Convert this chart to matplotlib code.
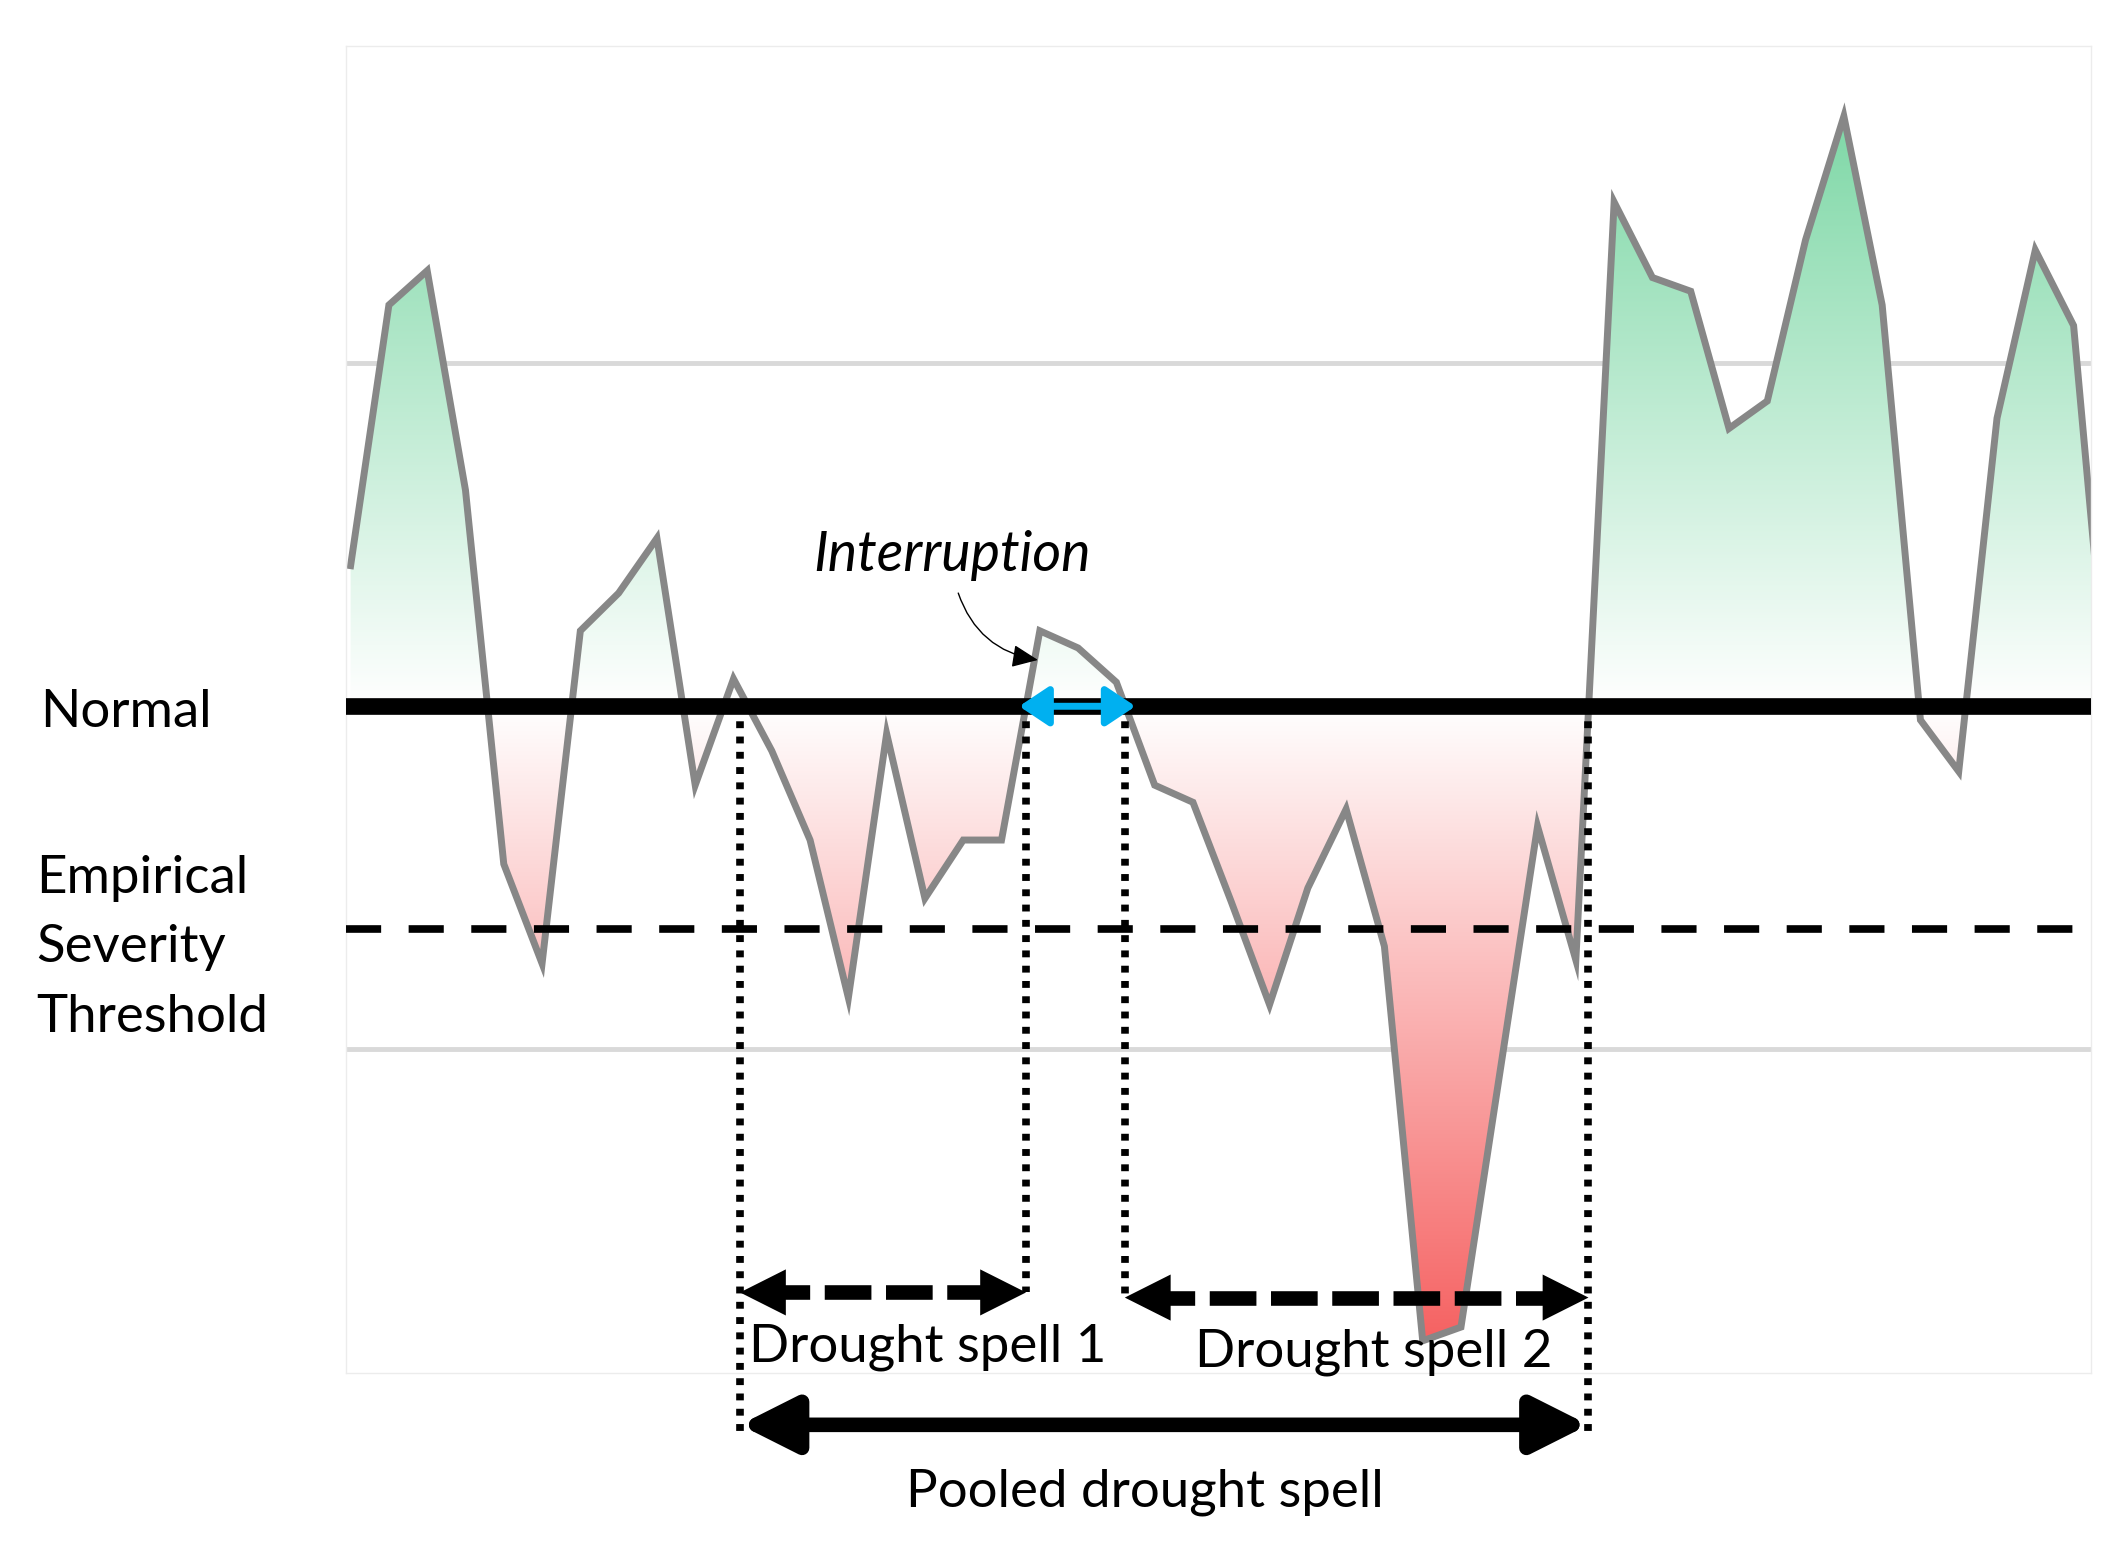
import numpy as np
import matplotlib
matplotlib.use("Agg")
import matplotlib.pyplot as plt
import matplotlib.transforms as mtransforms
from matplotlib.colors import LinearSegmentedColormap
from matplotlib.patches import PathPatch
from matplotlib.path import Path

plt.rcParams['font.family'] = ['Lato', 'DejaVu Sans']

# standardised index per time step (0 = normal)
steps = np.arange(-1, 46)
index_values = np.array([
    0.41, 1.17, 1.27, 0.63, -0.46, -0.75, 0.22, 0.33, 0.49, -0.23,
    0.08, -0.13, -0.39, -0.85, -0.08, -0.56, -0.39, -0.39, 0.22, 0.17,
    0.07, -0.23, -0.28, -0.57, -0.87, -0.53, -0.30, -0.70, -1.85, -1.81,
    -1.08, -0.35, -0.74, 1.47, 1.25, 1.21, 0.81, 0.89, 1.36, 1.72,
    1.17, -0.04, -0.19, 0.84, 1.33, 1.11, -0.12])

normal_level = 0.0
severity_threshold = -0.65
grid_levels = [-1.0, 1.0]

# spell boundaries (in time steps)
spell_1 = (9.17, 16.64)
spell_2 = (19.22, 31.33)
interruption = (16.46, 19.50)

threshold_lines = ['Empirical', 'Severity', 'Threshold']

x_min, x_max = -1.133, 44.46
y_min, y_max = -1.945, 1.925

fig = plt.figure(figsize=(21.25, 15.55), dpi=100)
ax = fig.add_axes([0.1626, 0.1168, 0.8215, 0.8536])

# gridlines (behind the fill)
for g in grid_levels:
    ax.axhline(g, color='#d9d9d9', lw=3.5, zorder=0)


# gradient fill clipped to the area between series and normal
def gradient_fill(mask, cmap, extent, flip):
    coll = ax.fill_between(steps, index_values, normal_level, where=mask,
                           interpolate=True, color='none', lw=0)
    clip = PathPatch(Path.make_compound_path(*coll.get_paths()),
                     transform=ax.transData, fc='none', ec='none')
    ax.add_patch(clip)
    grad = np.linspace(0, 1, 256).reshape(-1, 1)
    if flip:
        grad = grad[::-1]
    im = ax.imshow(grad, cmap=cmap, extent=extent, origin='lower',
                   aspect='auto', zorder=1, interpolation='bilinear')
    im.set_clip_path(clip)


green = LinearSegmentedColormap.from_list('g', ['#ffffff', '#6fd39c'])
red = LinearSegmentedColormap.from_list('r', ['#ffffff', '#f55a5a'])
gradient_fill(index_values >= normal_level, green, [x_min, x_max, normal_level, y_max], False)
gradient_fill(index_values <= normal_level, red, [x_min, x_max, y_min, normal_level], True)

ax.plot(steps, index_values, color='#878787', lw=5, zorder=2, solid_joinstyle='miter')
ax.axhline(severity_threshold, color='black', lw=5.5, ls=(0, (4.6, 3.6)), zorder=3)
ax.axhline(normal_level, color='black', lw=12, zorder=5)

# dotted spell boundaries
dot = dict(color='black', lw=5.5, ls=(0, (0.9, 1.1)), clip_on=False, zorder=4)
arrow_y1, arrow_y2, pooled_y = -1.709, -1.724, -2.095
ax.plot([spell_1[0]] * 2, [normal_level, -2.135], **dot)
ax.plot([spell_1[1]] * 2, [normal_level, arrow_y1], **dot)
ax.plot([spell_2[0]] * 2, [normal_level, arrow_y2], **dot)
ax.plot([spell_2[1]] * 2, [normal_level, -2.135], **dot)

head = '<|-|>,head_length=1.65,head_width=0.83'


def dashed_arrow(x0, x1, y):
    ax.plot([x0 + 0.6, x1 - 0.6], [y, y], color='black', lw=10.5,
            ls=(0, (3.2, 1.0)), clip_on=False, zorder=6)
    ax.annotate('', xy=(x1, y), xytext=(x0, y), annotation_clip=False,
                arrowprops=dict(arrowstyle=head, mutation_scale=20, lw=0,
                                color='black', shrinkA=0, shrinkB=0), zorder=6)


dashed_arrow(spell_1[0], spell_1[1], arrow_y1)
dashed_arrow(spell_2[0], spell_2[1], arrow_y2)
ax.annotate('', xy=(spell_2[1], pooled_y), xytext=(spell_1[0], pooled_y),
            annotation_clip=False,
            arrowprops=dict(arrowstyle=head, mutation_scale=20, lw=10.5,
                            color='black', shrinkA=0, shrinkB=0))

# interruption
ax.annotate('', xy=(interruption[1], normal_level), xytext=(interruption[0], normal_level),
            arrowprops=dict(arrowstyle='<|-|>,head_length=0.9,head_width=0.6',
                            mutation_scale=20, lw=5, color='#00b0f0',
                            shrinkA=0, shrinkB=0), zorder=7)
ax.annotate('', xy=(16.95, 0.135), xytext=(14.87, 0.33),
            arrowprops=dict(arrowstyle='-|>,head_length=0.8,head_width=0.35',
                            mutation_scale=20, lw=1, color='black',
                            connectionstyle='arc3,rad=0.3', shrinkA=0, shrinkB=0))
ax.text(14.72, 0.395, 'Interruption', style='italic', fontsize=40,
        ha='center', va='baseline')

ax.text(9.41, -1.909, 'Drought spell 1', fontsize=38, ha='left', va='baseline', zorder=8)
ax.text(21.06, -1.925, 'Drought spell 2', fontsize=38, ha='left', va='baseline', zorder=8)
ax.text(19.75, -2.332, 'Pooled drought spell', fontsize=38, ha='center', va='baseline')

side = mtransforms.blended_transform_factory(ax.transAxes, ax.transData)
ax.text(-0.175, -0.059, 'Normal', fontsize=38, ha='left', va='baseline', transform=side)
for label, base in zip(threshold_lines, [-0.545, -0.747, -0.949]):
    ax.text(-0.177, base, label, fontsize=38, ha='left', va='baseline', transform=side)

ax.set_xlim(x_min, x_max)
ax.set_ylim(y_min, y_max)
ax.set_xticks([])
ax.set_yticks([])
for s in ax.spines.values():
    s.set_color('#ececec')
    s.set_linewidth(1)

fig.savefig('out.png', dpi=100, facecolor='white')
